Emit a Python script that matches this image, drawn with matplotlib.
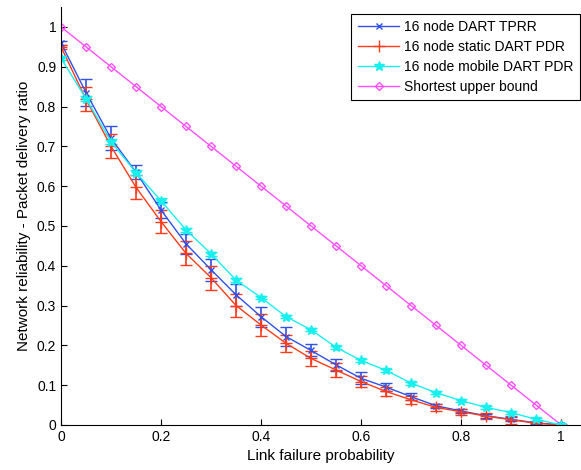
import numpy as np
import matplotlib.pyplot as plt

plt.rcParams['font.family'] = ['Liberation Sans', 'DejaVu Sans']

# link failure probability
p = [0.0, 0.05, 0.1, 0.15, 0.2, 0.25, 0.3, 0.35, 0.4, 0.45, 0.5,
     0.55, 0.6, 0.65, 0.7, 0.75, 0.8, 0.85, 0.9, 0.95, 1.0]

tprr = [0.96, 0.835, 0.72, 0.635, 0.54, 0.455, 0.39, 0.327, 0.272, 0.222, 0.187,
        0.151, 0.117, 0.095, 0.071, 0.048, 0.035, 0.023, 0.014, 0.005, 0.0]
tprr_err = [0.005, 0.033, 0.03, 0.018, 0.02, 0.025, 0.028, 0.028, 0.025, 0.025, 0.015,
            0.015, 0.015, 0.01, 0.008, 0.005, 0.005, 0.005, 0.005, 0.003, 0.0]

static_pdr = [0.95, 0.818, 0.70, 0.597, 0.511, 0.431, 0.37, 0.30, 0.251, 0.205, 0.167,
              0.138, 0.109, 0.084, 0.063, 0.044, 0.033, 0.022, 0.013, 0.004, 0.0]
static_err = [0.005, 0.03, 0.03, 0.03, 0.03, 0.03, 0.03, 0.03, 0.027, 0.022, 0.018,
              0.018, 0.015, 0.012, 0.01, 0.008, 0.008, 0.008, 0.01, 0.005, 0.0]

mobile_pdr = [0.921, 0.82, 0.712, 0.634, 0.563, 0.49, 0.43, 0.364, 0.32, 0.272, 0.239,
              0.195, 0.162, 0.137, 0.105, 0.081, 0.061, 0.044, 0.031, 0.014, 0.0]
mobile_err = [0.005, 0.006, 0.006, 0.006, 0.006, 0.006, 0.005, 0.005, 0.004, 0.004, 0.004,
              0.004, 0.004, 0.004, 0.004, 0.004, 0.004, 0.003, 0.003, 0.003, 0.0]

upper_bound = [1.0, 0.95, 0.9, 0.85, 0.8, 0.75, 0.7, 0.65, 0.6, 0.55, 0.5,
               0.45, 0.4, 0.35, 0.3, 0.25, 0.2, 0.15, 0.1, 0.05, 0.0]

fig = plt.figure(figsize=(5.81, 4.70), dpi=100)
ax = fig.add_axes([0.105, 0.096, 0.895, 0.889])

blue = '#3050e8'
red = '#ff3a1a'
cyan = '#18f0f0'
magenta = '#ff50ff'

eb1 = ax.errorbar(p, tprr, yerr=tprr_err, color=blue, marker='x', ms=5, lw=1,
                  capsize=4.5, elinewidth=1.2)
eb2 = ax.errorbar(p, static_pdr, yerr=static_err, color=red, marker='+', ms=8, lw=1,
                  capsize=4.5, elinewidth=1.2)
eb3 = ax.errorbar(p, mobile_pdr, yerr=mobile_err, color=cyan, marker='*', ms=7, lw=1,
                  capsize=4.5, elinewidth=1.2)
ub, = ax.plot(p, upper_bound, color=magenta, marker='D', ms=4.5, mfc='none', mew=1, lw=1)

ax.set_xlim(0, 1.04)
ax.set_ylim(0, 1.05)
ax.set_xticks([0, 0.2, 0.4, 0.6, 0.8, 1])
ax.set_xticklabels(['0', '0.2', '0.4', '0.6', '0.8', '1'])
ax.set_yticks(np.arange(0, 1.01, 0.1))
ax.set_yticklabels(['0', '0.1', '0.2', '0.3', '0.4', '0.5', '0.6', '0.7', '0.8', '0.9', '1'])
ax.tick_params(direction='in', length=4, labelsize=10)
ax.spines['top'].set_visible(False)
ax.spines['right'].set_visible(False)
ax.set_xlabel('Link failure probability', fontsize=11)
ax.set_ylabel('Network reliability - Packet delivery ratio', fontsize=11)

leg = ax.legend([eb1[0], eb2[0], eb3[0], ub],
                ['16 node DART TPRR', '16 node static DART PDR',
                 '16 node mobile DART PDR', 'Shortest upper bound'],
                loc='upper right', bbox_to_anchor=(0.998, 0.970),
                bbox_transform=fig.transFigure, borderaxespad=0, fontsize=10,
                fancybox=False, edgecolor='black', framealpha=1,
                handlelength=3.0, borderpad=0.45, labelspacing=0.42, handletextpad=0.35)
leg.get_frame().set_linewidth(0.8)

fig.savefig('out.png', dpi=100)
